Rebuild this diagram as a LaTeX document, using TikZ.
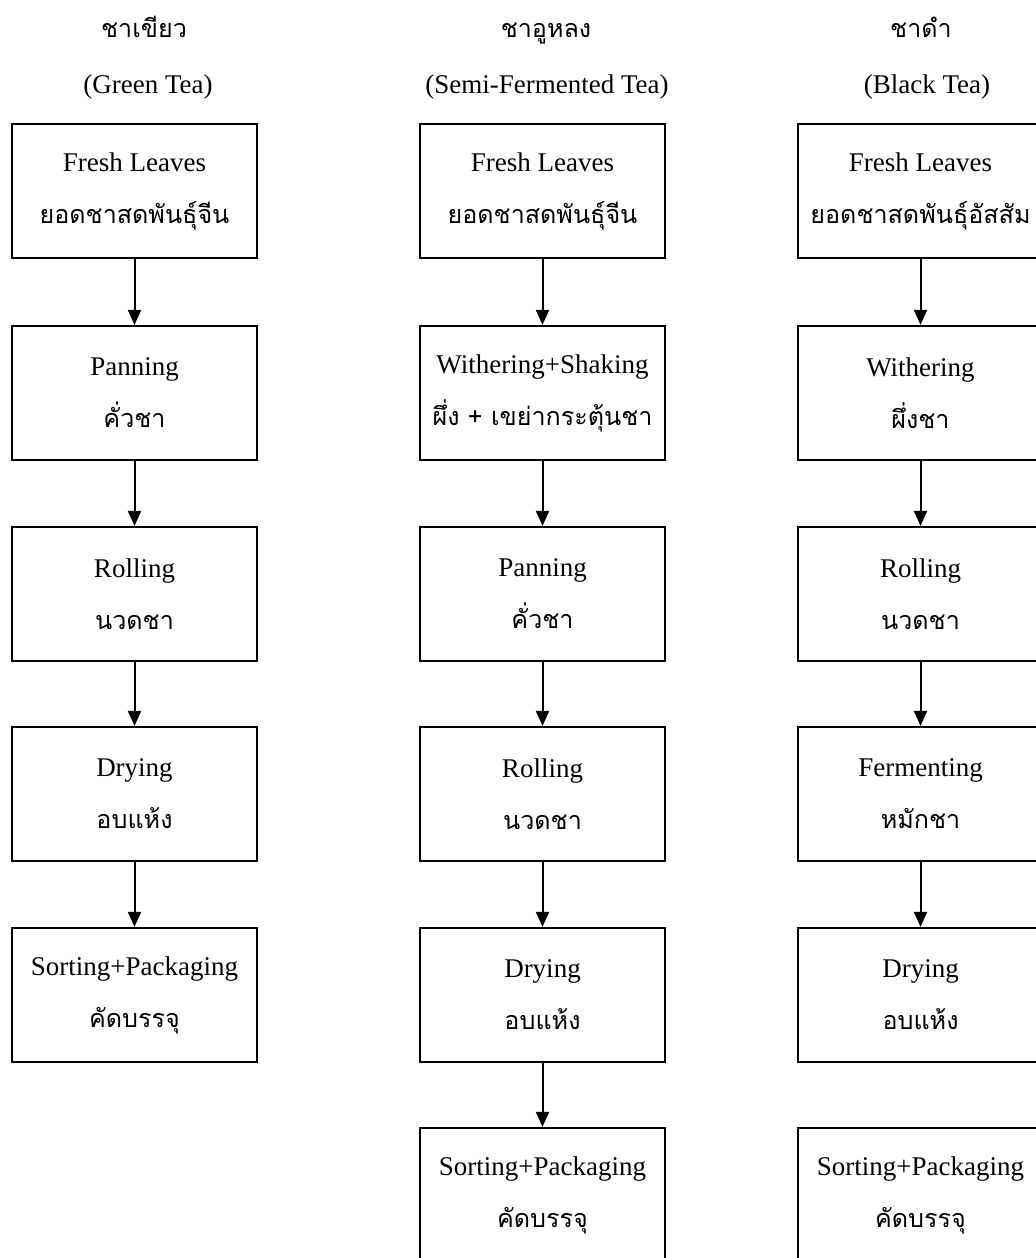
\documentclass[tikz,border=0pt]{standalone}
\usepackage{fontspec}
\setmainfont{Liberation Serif}
\newfontfamily\thaifont[Script=Thai, Scale=0.93]{Loma}
\usetikzlibrary{arrows.meta}

\tikzset{
  stage/.style={draw, line width=1.1pt, minimum width=122.5pt, minimum height=67pt,
    inner sep=0pt, align=center, font=\fontsize{13.5}{26}\selectfont},
  head/.style={anchor=base, font=\fontsize{13.5}{16}\selectfont},
  flow/.style={->, line width=1pt},
}

\begin{document}
\begin{tikzpicture}[x=0.5pt, y=-0.5pt, >={Triangle[length=7.5pt, width=6.5pt]}]
  \useasboundingbox[fill=white] (0,0) rectangle (1036,1258);
  % Green tea
  \node[head] (ghead) at (144,38) {\thaifont ชาเขียว};
  \node[head] (gname) at (148,93) {(Green Tea)};
  \node[stage] (g1) at (134.5,191) {Fresh Leaves\\{\thaifont ยอดชาสดพันธุ์จีน}};
  \node[stage] (g2) at (134.5,393) {Panning\\{\thaifont คั่วชา}};
  \node[stage] (g3) at (134.5,594) {Rolling\\{\thaifont นวดชา}};
  \node[stage] (g4) at (134.5,794) {Drying\\{\thaifont อบแห้ง}};
  \node[stage] (g5) at (134.5,995) {Sorting+Packaging\\{\thaifont คัดบรรจุ}};
  \draw[flow] (g1) -- (g2);
  \draw[flow] (g2) -- (g3);
  \draw[flow] (g3) -- (g4);
  \draw[flow] (g4) -- (g5);
  % Semi-fermented tea
  \node[head] (shead) at (546,38) {\thaifont ชาอูหลง};
  \node[head] (sname) at (547,93) {(Semi-Fermented Tea)};
  \node[stage] (s1) at (542.5,191)  {Fresh Leaves\\{\thaifont ยอดชาสดพันธุ์จีน}};
  \node[stage] (s2) at (542.5,393)  {Withering+Shaking\\{\thaifont ผึ่ง + เขย่ากระตุ้นชา}};
  \node[stage] (s3) at (542.5,594)  {Panning\\{\thaifont คั่วชา}};
  \node[stage] (s4) at (542.5,794)  {Rolling\\{\thaifont นวดชา}};
  \node[stage] (s5) at (542.5,995)  {Drying\\{\thaifont อบแห้ง}};
  \node[stage] (s6) at (542.5,1195) {Sorting+Packaging\\{\thaifont คัดบรรจุ}};
  \draw[flow] (s1) -- (s2);
  \draw[flow] (s2) -- (s3);
  \draw[flow] (s3) -- (s4);
  \draw[flow] (s4) -- (s5);
  \draw[flow] (s5) -- (s6);
  % Black tea
  \node[head] (bhead) at (921,38) {\thaifont ชาดำ};
  \node[head] (bname) at (927,93) {(Black Tea)};
  \node[stage] (b1) at (920.5,191)  {Fresh Leaves\\{\thaifont ยอดชาสดพันธุ์อัสสัม}};
  \node[stage] (b2) at (920.5,393)  {Withering\\{\thaifont ผึ่งชา}};
  \node[stage] (b3) at (920.5,594)  {Rolling\\{\thaifont นวดชา}};
  \node[stage] (b4) at (920.5,794)  {Fermenting\\{\thaifont หมักชา}};
  \node[stage] (b5) at (920.5,995)  {Drying\\{\thaifont อบแห้ง}};
  \node[stage] (b6) at (920.5,1195) {Sorting+Packaging\\{\thaifont คัดบรรจุ}};
  \draw[flow] (b1) -- (b2);
  \draw[flow] (b2) -- (b3);
  \draw[flow] (b3) -- (b4);
  \draw[flow] (b4) -- (b5);
\end{tikzpicture}
\end{document}
